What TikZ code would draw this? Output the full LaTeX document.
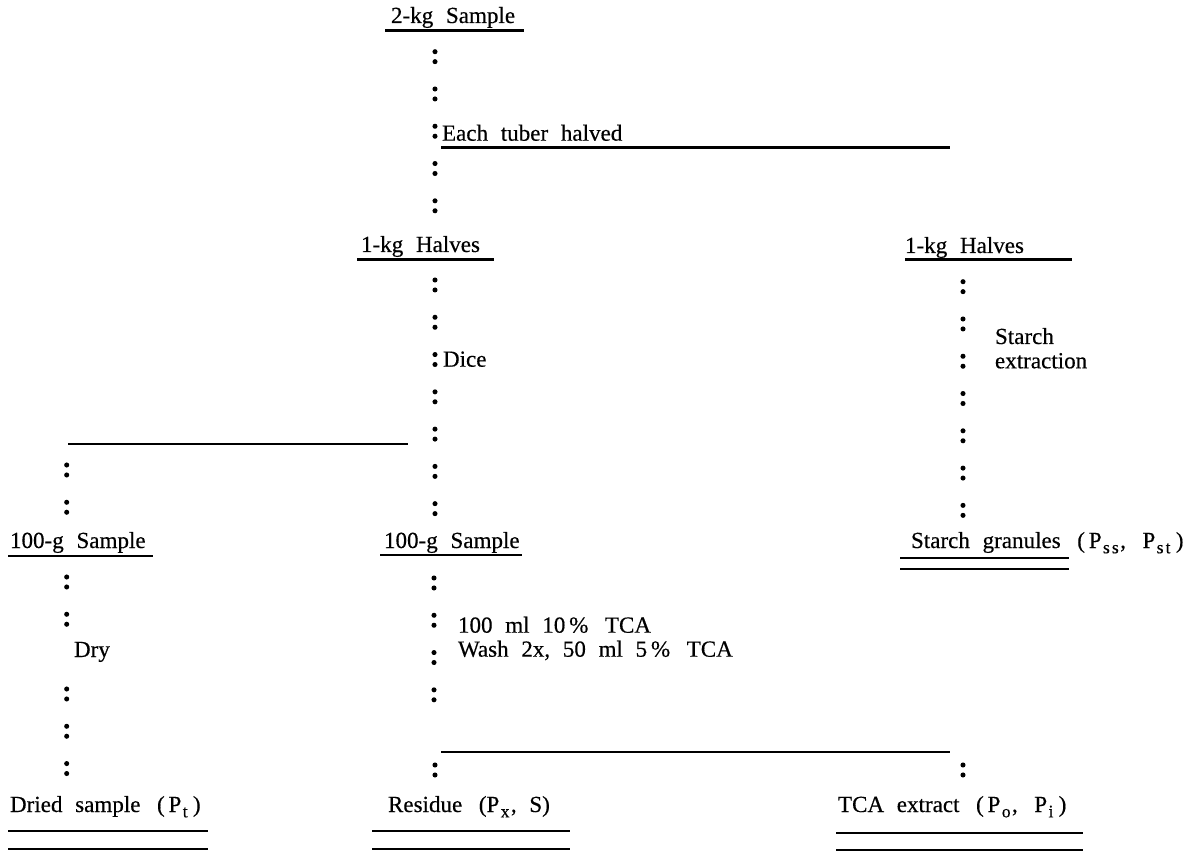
\documentclass[tikz,border=0pt]{standalone}
\usepackage{fontspec}
\setmainfont{Liberation Serif}[WordSpace=2.2, FakeBold=0.4]
\usetikzlibrary{positioning}
\tikzset{
  every node/.style = {inner sep=0, outer sep=0, anchor=base west, font=\fontsize{16.4}{20}\selectfont},
  rule/.style = {line width=2.1pt},
  colons/.style = {line width=3.6pt, line cap=round, dash pattern=on 0pt off 7.09pt on 0pt off 19.42pt}
}
\newcommand{\lowtxt}[1]{\kern1pt\raisebox{-0.5ex}{\fontsize{12.5}{13}\selectfont #1}\kern1pt}

\begin{document}
\begin{tikzpicture}[x=0.025cm, y=-0.025cm]
  \fill[white] (0,0) rectangle (1203,852);
  \useasboundingbox (0,0) rectangle (1203,852);

  % samples and fractions
  \node (sample2kg) at (391,23) {2-kg Sample};
  \node (halvedtxt) at (442,140.7) {Each tuber halved};
  \node (halvesL) at (361,252) {1-kg Halves};
  \node (halvesR) at (905,253) {1-kg Halves};
  \node (dicetxt) at (443,366.7) {Dice};
  \node (starchA) at (995,344) {Starch};
  \node (starchB) at (995,368.3) {extraction};
  \node (sample100L) at (10,548) {100-g Sample};
  \node (sample100M) at (384,548) {100-g Sample};
  \node (granules) at (911,548) {Starch granules \,(\,P\lowtxt{s\kern1.5pt s}, \,P\lowtxt{s\kern1.5pt t}\,)};
  \node (drytxt) at (74,657) {Dry};
  \node (tcaA) at (458,632.7) {100 ml 10\,\% \,TCA};
  \node (tcaB) at (458,656.7) {Wash 2x, 50 ml 5\,\% \,TCA};
  \node (dried) at (10,812) {Dried sample \,(\,P\lowtxt{t}\,)};
  \node (residue) at (388,812) {Residue \,(P\lowtxt{x}, S)};
  \node (extract) at (838,812) {TCA extract \,(\,P\lowtxt{o}, \,P\lowtxt{i}\,)};

  % underlines
  \draw[rule] (385,30.7) -- (524,30.7);
  \draw[rule] (357,259.5) -- (494,259.5);
  \draw[rule] (905,259.7) -- (1072,259.7);
  \draw[rule] (8,556) -- (153,556);
  \draw[rule] (380,555) -- (522,555);
  \draw[rule] (900,558) -- (1069,558);
  \draw[rule] (900,569) -- (1069,569);
  \foreach \xa/\xb/\ya/\yb in {8/208/831/849, 372/570/831/849, 836/1083/833/850} {
    \draw[rule] (\xa,\ya) -- (\xb,\ya);
    \draw[rule] (\xa,\yb) -- (\xb,\yb);
  }

  % branch points
  \coordinate (cutA) at (441,147.5);
  \coordinate (cutB) at (950,147.5);
  \coordinate (splitA) at (68,444);
  \coordinate (splitB) at (408,444);
  \coordinate (washA) at (441,752);
  \coordinate (washB) at (950,752);
  \draw[rule] (cutA) -- (cutB);
  \draw[rule] (splitA) -- (splitB);
  \draw[rule] (washA) -- (washB);

  % dotted columns
  \coordinate (colA1) at (435,51.7);   \coordinate (colA2) at (435,215);
  \coordinate (colB1) at (435,280);    \coordinate (colB2) at (435,518);
  \coordinate (colC1) at (66.7,465);   \coordinate (colC2) at (66.7,515);
  \coordinate (colD1) at (66.7,577);   \coordinate (colD2) at (66.7,627);
  \coordinate (colE1) at (66.7,689);   \coordinate (colE2) at (66.7,777);
  \coordinate (colF1) at (434,578);    \coordinate (colF2) at (434,704);
  \coordinate (colG1) at (435,765);    \coordinate (colG2) at (435,778);
  \coordinate (colH1) at (963,281.7);  \coordinate (colH2) at (963,520);
  \coordinate (colI1) at (963,765);    \coordinate (colI2) at (963,778);
  \foreach \c in {A,B,C,D,E,F,G,H,I} {
    \draw[colons] (col\c1) -- (col\c2);
  }
\end{tikzpicture}
\end{document}
